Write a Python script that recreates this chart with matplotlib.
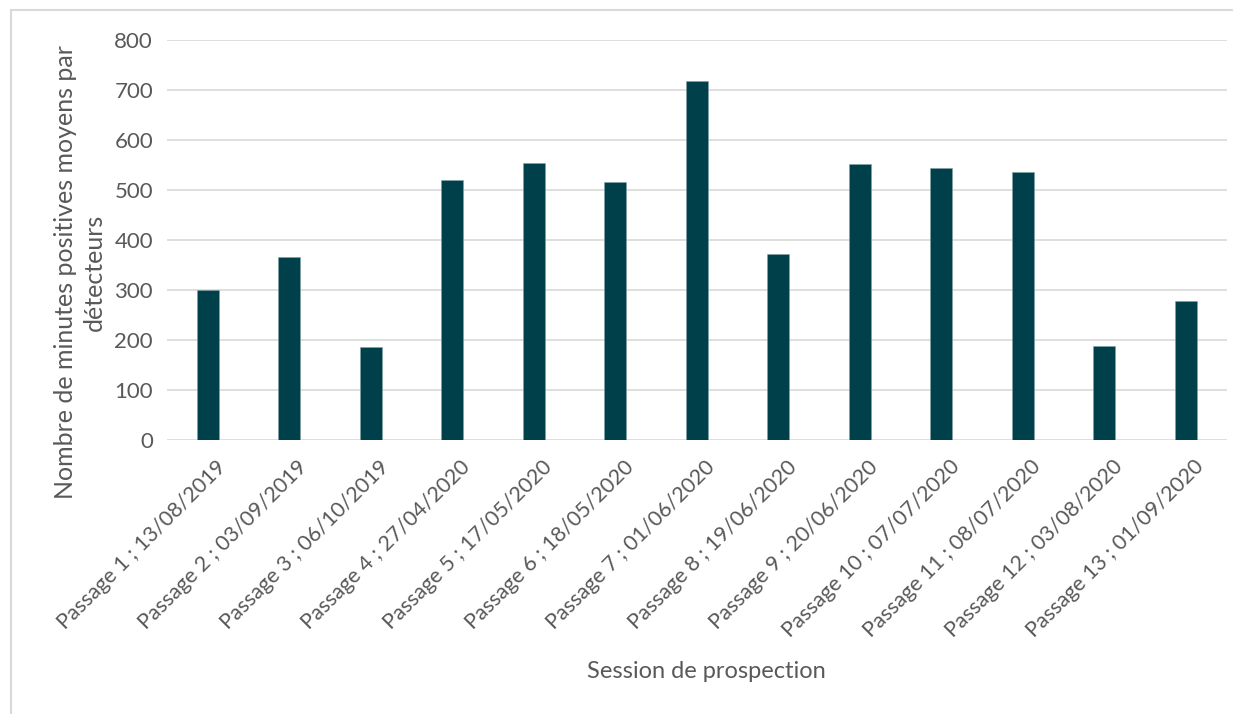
import numpy as np
import matplotlib.pyplot as plt
import matplotlib.transforms as mtransforms
from matplotlib.patches import Rectangle

sessions = [
    "Passage 1 ; 13/08/2019", "Passage 2 ; 03/09/2019", "Passage 3 ; 06/10/2019",
    "Passage 4 ; 27/04/2020", "Passage 5 ; 17/05/2020", "Passage 6 ; 18/05/2020",
    "Passage 7 ; 01/06/2020", "Passage 8 ; 19/06/2020", "Passage 9 ; 20/06/2020",
    "Passage 10 ; 07/07/2020", "Passage 11 ; 08/07/2020", "Passage 12 ; 03/08/2020",
    "Passage 13 ; 01/09/2020",
]
minutes = [300, 366, 187, 520, 555, 516, 718, 373, 553, 545, 537, 188, 279]
y_ticks = [0, 100, 200, 300, 400, 500, 600, 700, 800]

plt.rcParams['font.family'] = ['Lato', 'DejaVu Sans']
text_col = "#595959"
W, H = 1233, 714

fig = plt.figure(figsize=(W / 100, H / 100), dpi=100)
ax = fig.add_axes([167 / W, 1 - 440 / H, (1226.5 - 167) / W, 400 / H])

x = np.arange(len(sessions))
ax.bar(x, minutes, width=0.27, color="#00404A", edgecolor="#7FA3A8", linewidth=0.4, zorder=3)

ax.set_xlim(-0.5, len(sessions) - 0.5)
ax.set_ylim(0, 800)
ax.set_yticks(y_ticks)
ax.set_yticklabels([str(v) for v in y_ticks], fontsize=16, color=text_col)
ax.yaxis.grid(True, color="#D9D9D9", linewidth=1.2, zorder=0)
ax.set_axisbelow(True)
for s in ax.spines.values():
    s.set_visible(False)
ax.tick_params(axis='y', length=0, pad=10)
ax.tick_params(axis='x', length=0, pad=12)

ax.set_xticks(x)
ax.set_xticklabels(sessions, rotation=45, ha='right', rotation_mode='anchor',
                   fontsize=15.5, color=text_col)
# décale un peu les étiquettes vers la droite
shift = mtransforms.ScaledTranslation(0.08, 0, fig.dpi_scale_trans)
for lab in ax.get_xticklabels():
    lab.set_transform(lab.get_transform() + shift)

# titres des axes placés à la main, comme dans le graphique Excel
fig.text(80 / W, 1 - 272 / H, "Nombre de minutes positives moyens par\ndétecteurs",
         rotation=90, ha='center', va='center', multialignment='center',
         fontsize=18, color=text_col, linespacing=1.3)
fig.text(706 / W, 1 - 672 / H, "Session de prospection", ha='center', va='center',
         fontsize=17, color=text_col)

fig.patches.append(Rectangle((11 / W, -0.1), 1.2, 1 - 10 / H + 0.1,
                             transform=fig.transFigure, fill=False,
                             edgecolor="#D9D9D9", linewidth=1.5))

fig.savefig("out.png", dpi=100)
